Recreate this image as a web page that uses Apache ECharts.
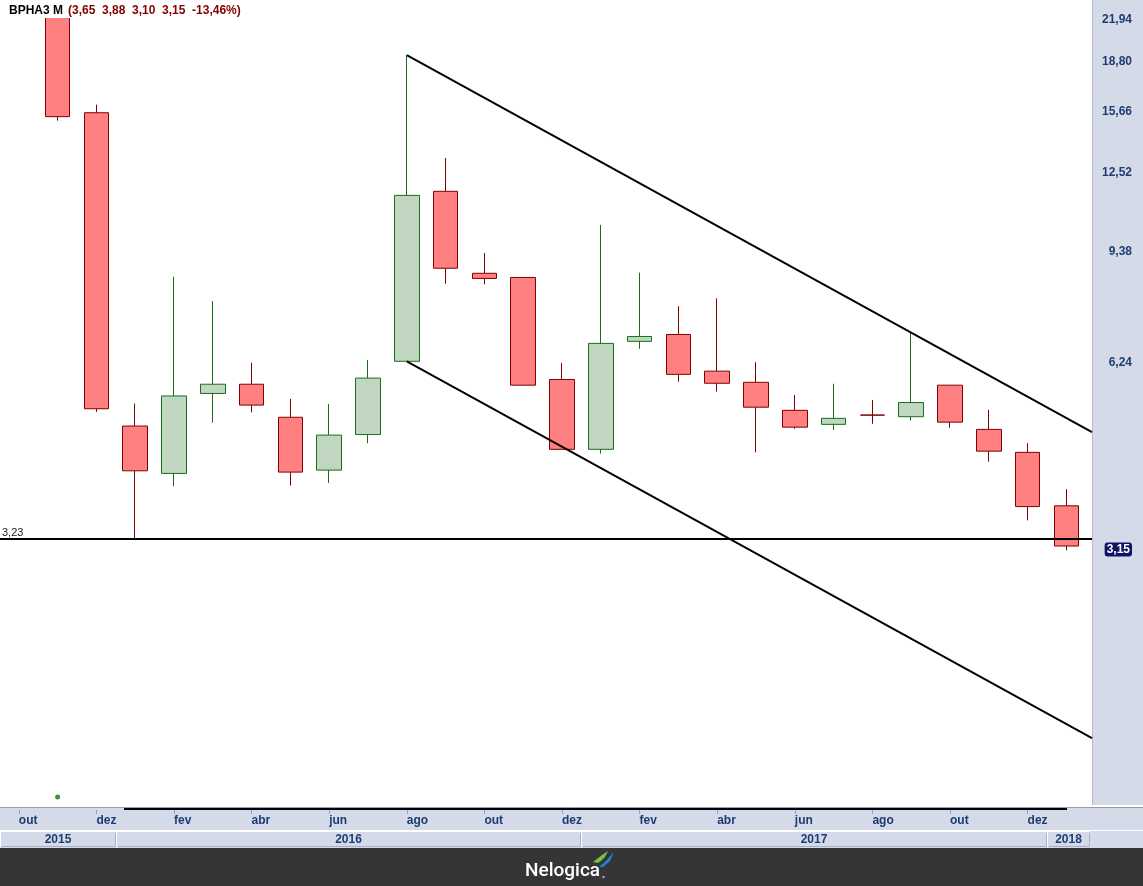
<!DOCTYPE html>
<html><head><meta charset="utf-8">
<script src="https://cdn.jsdelivr.net/npm/echarts@6/dist/echarts.min.js"></script>
<style>html,body{margin:0;padding:0;background:#fff}#c{width:1143px;height:886px}</style>
</head><body><div id="c"></div>
<script>
// ---- data ----
const ticker = 'BPHA3 M';
// month slots, k = 0 (out/2015) .. 27 (jan/2018)
const months = ['out','nov','dez','jan','fev','mar','abr','mai','jun','jul','ago','set','out','nov','dez','jan','fev','mar','abr','mai','jun','jul','ago','set','out','nov','dez','jan'];
const years  = [2015,2015,2015,2016,2016,2016,2016,2016,2016,2016,2016,2016,2016,2016,2016,2017,2017,2017,2017,2017,2017,2017,2017,2017,2017,2017,2017,2018];
const firstCandle = 1; // first candle is nov/2015
const opens  = [23.00,15.42,4.89,4.11,5.51,5.70,5.05,4.16,4.74,6.20,11.56,8.56,8.43,5.80,4.49,6.67,6.84,5.98,5.74,5.18,4.92,5.09,5.06,5.68,4.83,4.44,3.65];
const highs  = [23.00,15.88,5.31,8.45,7.73,6.17,5.40,5.30,6.23,19.05,13.06,9.22,8.43,6.16,10.22,8.58,7.59,7.81,6.18,5.48,5.71,5.38,6.89,5.68,5.19,4.59,3.88];
const lows   = [14.98,5.15,3.23,3.92,4.95,5.14,3.93,3.97,4.59,6.20,8.24,8.22,5.68,4.49,4.42,6.49,5.75,5.55,4.44,4.84,4.82,4.93,4.99,4.86,4.29,3.46,3.10];
const closes = [15.20,5.21,4.15,5.46,5.70,5.28,4.13,4.73,5.83,11.39,8.72,8.40,5.68,4.49,6.62,6.79,5.91,5.72,5.24,4.87,5.03,5.09,5.33,4.96,4.46,3.64,3.15];
const yTicks = [21.94,18.80,15.66,12.52,9.38,6.24];
const supportLevel = 3.23;
const upperTrend = [[10,19.05],[27.66,4.784]];
const lowerTrend = [[10,6.20],[27.66,1.558]];
const markerPoint = [1,1.255];
// axis ranges
const xMin = -0.4845, xMax = 27.66;
const yMin = 1.219, yMax = 23.31;

// ---- build ----
const FONT = "'Liberation Sans', Arial, sans-serif";
const NAVY = '#1d3d72';
const fmt = v => v.toFixed(2).replace('.', ',');
const candleData = opens.map((o,i)=>[i+firstCandle, o, closes[i], lows[i], highs[i]]);
const last = closes.length-1;
const pct = (closes[last]/closes[last-1]-1)*100;
const header = `{a|${ticker}} {b|(${fmt(opens[last])}  ${fmt(highs[last])}  ${fmt(lows[last])}  ${fmt(closes[last])}  ${fmt(pct)}%)}`;
const monthTicks = months.map((m,k)=>k).filter(k=>k%2===0);
const labelVals = yTicks.concat([closes[last]]).map(v=>Math.log(v));
const yearList = [...new Set(years)];
const yearSpans = yearList.map((y,i)=>{
  const first = years.indexOf(y), lastK = years.lastIndexOf(y);
  const s = Math.max(xMin, first-0.5);
  const e = (i===yearList.length-1) ? xMax-0.05 : lastK+0.5;
  return [s,e,y];
});

const chart = echarts.init(document.getElementById('c'));
chart.setOption({
  animation:false,
  backgroundColor:'#ffffff',
  title:{left:9, top:2, padding:0, z:20, text:header, textStyle:{rich:{
    a:{color:'#000', fontWeight:'bold', fontSize:12, fontFamily:FONT},
    b:{color:'#800000', fontWeight:'bold', fontSize:12, fontFamily:FONT}}}},
  grid:[{left:0, top:0, width:1092, height:805},
        {left:0, top:831, width:1092, height:16}],
  xAxis:[
    {type:'value', gridIndex:0, min:xMin, max:xMax, position:'bottom', offset:5,
     axisLine:{show:false}, splitLine:{show:false},
     axisTick:{show:true, customValues:monthTicks, length:4, lineStyle:{color:'#9aa3bb'}},
     axisLabel:{customValues:monthTicks, formatter:v=>months[Math.round(v)], align:'left', margin:5,
       color:NAVY, fontWeight:'bold', fontSize:12, fontFamily:FONT}},
    {type:'value', gridIndex:1, min:xMin, max:xMax, show:false}
  ],
  yAxis:[
    {type:'log', gridIndex:0, min:yMin, max:yMax, show:false},
    {type:'value', gridIndex:0, position:'right', min:Math.log(yMin), max:Math.log(yMax),
     axisLine:{show:false}, axisTick:{show:false}, splitLine:{show:false},
     axisLabel:{customValues:labelVals, margin:40, align:'right', padding:[7,0,0,0],
       color:NAVY, fontWeight:'bold', fontSize:12, fontFamily:FONT,
       formatter:v=>{const x=Math.exp(v); const s=fmt(x);
         return Math.abs(x-closes[last])<1e-6 ? '{last|'+s+'}' : s;},
       rich:{last:{backgroundColor:'#0b1466', color:'#fff', fontWeight:'bold', fontSize:12,
         fontFamily:FONT, padding:[1,2,1,2], borderRadius:3}}}},
    {type:'value', gridIndex:1, min:0, max:1, show:false}
  ],
  series:[
    {type:'candlestick', xAxisIndex:0, yAxisIndex:0, data:candleData,
     dimensions:['k','open','close','low','high'], encode:{x:0, y:[1,2,3,4]},
     barWidth:25,
     itemStyle:{color:'#c0d6c0', color0:'#ff8080', borderColor:'#177017', borderColor0:'#800000',
       borderColorDoji:'#800000', borderWidth:1},
     markLine:{symbol:'none', silent:true, animation:false, label:{show:false},
       lineStyle:{color:'#000', width:2, type:'solid'},
       data:[
         {yAxis:supportLevel, label:{show:true, position:'insideStartTop', formatter:fmt(supportLevel),
            color:'#222', fontSize:11, fontFamily:FONT, distance:[2,1]}},
         [{coord:upperTrend[0]},{coord:upperTrend[1]}],
         [{coord:lowerTrend[0]},{coord:lowerTrend[1]}]
       ]}},
    {type:'scatter', xAxisIndex:0, yAxisIndex:0, data:[markerPoint], symbol:'circle', symbolSize:5,
     itemStyle:{color:'#0a7a0a'}, silent:true},
    {type:'custom', xAxisIndex:1, yAxisIndex:2, data:yearSpans, silent:true,
     renderItem:(params, api)=>{
       const p0 = api.coord([api.value(0),1]);
       const p1 = api.coord([api.value(1),0]);
       const x0=Math.round(p0[0])+0.5, x1=Math.round(p1[0])-0.5, y0=Math.round(p0[1])+0.5, y1=Math.round(p1[1])-0.5;
       return {type:'group', children:[
         {type:'rect', shape:{x:x0,y:y0,width:x1-x0,height:y1-y0}, style:{fill:'#d5dae9', stroke:'#ffffff', lineWidth:1}},
         {type:'polyline', shape:{points:[[x0+1,y1],[x1,y1],[x1,y0+1]]}, style:{stroke:'#a9b0c4', lineWidth:1, fill:null}},
         {type:'text', style:{text:String(api.value(2)), x:(x0+x1)/2, y:(y0+y1)/2+1, align:'center', verticalAlign:'middle',
           fill:NAVY, font:'bold 12px '+FONT}}
       ]};
     }}
  ],
  graphic:[
    {type:'rect', z:-1, shape:{x:1092,y:0,width:51,height:805}, style:{fill:'#d5dae9'}},
    {type:'line', z:-1, shape:{x1:1092.5,y1:0,x2:1092.5,y2:805}, style:{stroke:'#b3bbd2', lineWidth:1}},
    {type:'rect', z:-1, shape:{x:0,y:807,width:1143,height:41}, style:{fill:'#d5dae9'}},
    {type:'line', z:-1, shape:{x1:0,y1:807.5,x2:1143,y2:807.5}, style:{stroke:'#9c9ca4', lineWidth:1}},
    {type:'line', z:-1, shape:{x1:124,y1:809,x2:1067,y2:809}, style:{stroke:'#000', lineWidth:2}},
    {type:'line', z:-1, shape:{x1:0,y1:830.5,x2:1143,y2:830.5}, style:{stroke:'#ffffff', lineWidth:1}},
    {type:'rect', z:-1, shape:{x:0,y:848,width:1143,height:38}, style:{fill:'#353537'}},
    {type:'text', z:1, style:{text:'Nelogica', x:525, y:871, verticalAlign:'middle',
      fill:'#ffffff', font:'500 19px Roboto, '+FONT}},
    {type:'circle', z:1, shape:{cx:603.5,cy:877,r:1.3}, style:{fill:'#9aa0a6'}},
    {type:'polygon', z:1, shape:{points:[[593,862],[602,855],[602,860],[598,863]]}, style:{fill:'#7ac143'}},
    {type:'polygon', z:1, shape:{points:[[602,855],[608,851],[605,857],[602,860]]}, style:{fill:'#7ac143'}},
    {type:'polygon', z:1, shape:{points:[[599,867],[606,861],[614,852],[610,861],[603,867]]}, style:{fill:'#1e88d2'}},
    {type:'rect', z:5, shape:{x:0,y:0,width:300,height:18}, style:{fill:'#ffffff'}}
  ]
});
</script></body></html>
